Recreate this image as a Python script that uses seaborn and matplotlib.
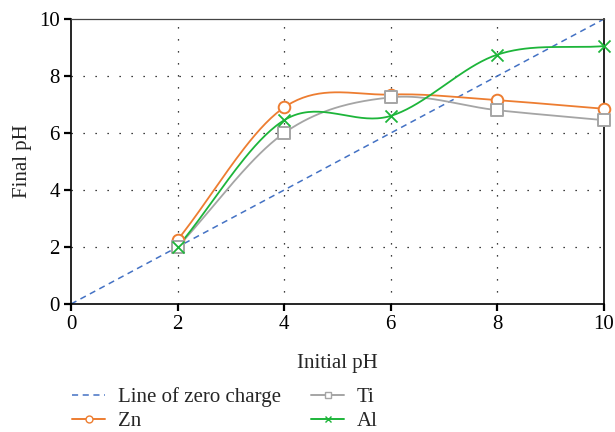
import numpy as np
import pandas as pd
import matplotlib
matplotlib.use("Agg")
import matplotlib.pyplot as plt
from matplotlib.lines import Line2D
import seaborn as sns

# Measured values
initial_ph = [2, 4, 6, 8, 10]
zn_final = [2.25, 6.9, 7.35, 7.15, 6.85]
ti_final = [2.0, 6.0, 7.25, 6.8, 6.45]
al_final = [2.0, 6.45, 6.6, 8.75, 9.05]
zero_charge_x = [0, 10]
zero_charge_y = [0, 10]

series_names = ["Zn", "Ti", "Al"]
series_values = [zn_final, ti_final, al_final]
colors = {"Zn": "#ED7D31", "Ti": "#A5A5A5", "Al": "#1DB53A"}
markers = {"Zn": "o", "Ti": "s", "Al": "x"}
line_blue = "#4472C4"


def catmull_rom(x, y, n=40):
    """Smooth curve through the given points (Catmull-Rom spline)."""
    x = np.asarray(x, float)
    y = np.asarray(y, float)
    px = np.concatenate([[2 * x[0] - x[1]], x, [2 * x[-1] - x[-2]]])
    py = np.concatenate([[2 * y[0] - y[1]], y, [2 * y[-1] - y[-2]]])
    xs, ys = [], []
    for i in range(1, len(px) - 2):
        t = np.linspace(0, 1, n, endpoint=(i == len(px) - 3))
        t2, t3 = t * t, t * t * t
        for arr, out in ((px, xs), (py, ys)):
            p0, p1, p2, p3 = arr[i - 1], arr[i], arr[i + 1], arr[i + 2]
            out.append(0.5 * (2 * p1 + (-p0 + p2) * t
                              + (2 * p0 - 5 * p1 + 4 * p2 - p3) * t2
                              + (-p0 + 3 * p1 - 3 * p2 + p3) * t3))
    return np.concatenate(xs), np.concatenate(ys)


sns.set_theme(style="ticks")
plt.rcParams["font.family"] = ["Liberation Serif", "DejaVu Serif"]
FS = 15

fig = plt.figure(figsize=(6.15, 4.32), dpi=100)
ax = fig.add_axes([71 / 615, 1 - 304 / 432, 533 / 615, 285 / 432])

zc = pd.DataFrame({"x": zero_charge_x, "y": zero_charge_y})
sns.lineplot(data=zc, x="x", y="y", ax=ax, color=line_blue,
             linestyle=(0, (4, 3)), linewidth=1.1)

for name, vals in zip(series_names, series_values):
    sx, sy = catmull_rom(initial_ph, vals)
    curve = pd.DataFrame({"x": sx, "y": sy})
    sns.lineplot(data=curve, x="x", y="y", ax=ax, color=colors[name],
                 linewidth=1.3, sort=False, estimator=None)

for name, vals in zip(series_names, series_values):
    pts = pd.DataFrame({"x": initial_ph, "y": vals})
    if markers[name] == "x":
        sns.scatterplot(data=pts, x="x", y="y", ax=ax, marker="x",
                        color=colors[name], s=75, linewidth=1.3, zorder=5,
                        clip_on=False)
    else:
        sns.scatterplot(data=pts, x="x", y="y", ax=ax, marker=markers[name],
                        facecolor="white", edgecolor=colors[name], s=70,
                        linewidth=1.4, zorder=5, clip_on=False)

ax.set_xlim(0, 10)
ax.set_ylim(0, 10)
ax.set_xticks([0, 2, 4, 6, 8, 10])
ax.set_yticks([0, 2, 4, 6, 8, 10])
for v in [2, 4, 6, 8]:
    ax.axvline(v, color="black", linestyle=(0, (1, 8.6)), linewidth=0.9, zorder=0)
    ax.axhline(v, color="black", linestyle=(0, (1, 8.6)), linewidth=0.9, zorder=0)

for side in ["left", "bottom", "top", "right"]:
    ax.spines[side].set_visible(True)
    ax.spines[side].set_color("black")
    ax.spines[side].set_linewidth(1.2)
ax.spines["top"].set_color("#444444")
ax.spines["top"].set_linewidth(0.9)
ax.tick_params(axis="both", direction="out", length=5, width=1.6,
               labelsize=FS, colors="black", pad=3)
ax.tick_params(top=False, right=False)
ax.set_xlabel("Initial pH", fontsize=FS, labelpad=14)
ax.set_ylabel("Final pH", fontsize=FS, labelpad=5)

handles = [
    Line2D([], [], color=line_blue, linestyle=(0, (4, 3)), linewidth=1.1),
    Line2D([], [], color=colors["Zn"], marker="o", markerfacecolor="white",
           markersize=5, linewidth=1.4),
    Line2D([], [], color=colors["Ti"], marker="s", markerfacecolor="white",
           markersize=5, linewidth=1.4),
    Line2D([], [], color=colors["Al"], marker="x", markersize=5, linewidth=1.4),
]
labels = ["Line of zero charge", "Zn", "Ti", "Al"]
fig.legend(handles, labels, ncol=2, frameon=False, fontsize=FS,
           loc="upper left", bbox_to_anchor=(72 / 615, 1 - 387 / 432),
           handlelength=1.6, handletextpad=0.6, columnspacing=1.45,
           labelspacing=0.22, borderaxespad=0, borderpad=0)

fig.savefig("out.png", dpi=100)
